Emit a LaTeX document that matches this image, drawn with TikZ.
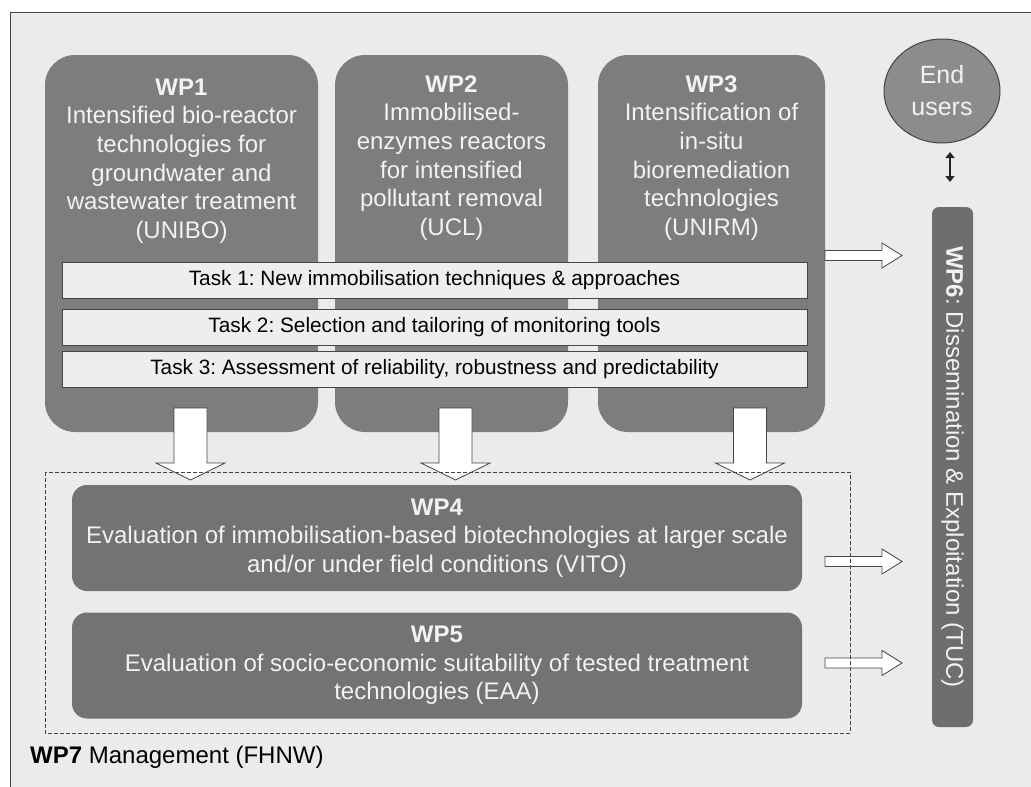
\documentclass[tikz,border=0pt]{standalone}
\usepackage{fontspec}
\setmainfont{Liberation Sans}
\frenchspacing
\usetikzlibrary{shapes.geometric,arrows.meta}
\definecolor{bgc}{HTML}{EBEBEB}
\definecolor{wpgray}{HTML}{7D7D7D}
\definecolor{wpdark}{HTML}{737373}
\definecolor{barc}{HTML}{6E6E6E}
\definecolor{ellc}{HTML}{8C8C8C}
\definecolor{taskc}{HTML}{EEEEEE}
\definecolor{linec}{HTML}{454545}
\definecolor{txtw}{HTML}{F2F2F2}
\newcommand\downblock[2]{\draw[blockarrow] (#1-16.5,#2) -- (#1+16.5,#2) -- (#1+16.5,463) -- (#1+34.5,463) -- (#1,480) -- (#1-34.5,463) -- (#1-16.5,463) -- cycle;}
\newcommand\rightblock[1]{\draw[blockarrow] (825,#1-5) -- (882,#1-5) -- (882,#1-12.5) -- (902,#1) -- (882,#1+12.5) -- (882,#1+5) -- (825,#1+5) -- cycle;}
\begin{document}
\begin{tikzpicture}[x=1pt,y=-1pt,
  wpbox/.style={fill=wpgray,draw=none,rounded corners=30pt,minimum width=273pt,minimum height=377pt,inner sep=0pt},
  wptext/.style={text=txtw,align=center,font=\fontsize{24}{28.7}\selectfont,inner sep=0pt},
  taskbox/.style={fill=taskc,draw=linec,line width=1pt,minimum width=745pt,minimum height=36pt,inner sep=0pt,font=\fontsize{20.8}{24}\selectfont},
  lowbox/.style={fill=wpdark,draw=none,rounded corners=15pt,minimum width=730pt,minimum height=106pt,inner sep=0pt,text=txtw,align=center,font=\fontsize{24}{28.7}\selectfont},
  blockarrow/.style={fill=white,draw=linec,line width=0.8pt,line join=miter}]
\path[use as bounding box] (0,0) rectangle (1031,787);
\clip (0,0) rectangle (1031,787);
\fill[white] (0,0) rectangle (1031,787);
\draw[fill=bgc,draw=linec,line width=1pt] (10,12) rectangle (1045,800);
% WP boxes
\node[wpbox] (wp1box) at (181.5,243.5) {};
\node[wpbox,minimum width=233pt] (wp2box) at (451.5,243.5) {};
\node[wpbox,minimum width=227pt] (wp3box) at (711.5,243.5) {};
\node[wptext] (wp1) at (181.5,161) {\textbf{WP1}\\Intensified bio-reactor\\technologies for\\groundwater and\\wastewater treatment\\(UNIBO)};
\node[wptext] (wp2) at (451.5,158) {\textbf{WP2}\\Immobilised-\\enzymes reactors\\for intensified\\pollutant removal\\(UCL)};
\node[wptext] (wp3) at (711.5,158) {\textbf{WP3}\\Intensification of\\in-situ\\bioremediation\\technologies\\(UNIRM)};
% tasks
\node[taskbox] (t1) at (434.5,280) {Task 1: New immobilisation techniques \& approaches};
\node[taskbox] (t2) at (434.5,327) {Task 2: Selection and tailoring of monitoring tools};
\node[taskbox] (t3) at (434.5,369.5) {Task 3: Assessment of reliability, robustness and predictability};
% end users
\node[ellipse,fill=ellc,draw=linec,line width=1pt,minimum width=116pt,minimum height=104pt,inner sep=0pt,text=txtw,align=center,font=\fontsize{25}{32}\selectfont] (eu) at (942,91) {End\\users};
% WP6
\node[fill=barc,rounded corners=7pt,minimum width=41pt,minimum height=520pt,inner sep=0pt] (wp6) at (952.5,467) {};
\node[rotate=-90,text=txtw,font=\fontsize{24}{28}\selectfont,inner sep=0pt] (wp6t) at (wp6.center) {\textbf{WP6}: Dissemination \& Exploitation (TUC)};
\coordinate (da1) at (950,152);
\coordinate (da2) at (950,182);
\draw[{Triangle[width=9pt,length=6pt]}-{Triangle[width=9pt,length=6pt]},line width=2pt,draw=black!85] (da1) -- (da2);
% lower boxes
\node[lowbox] (wp4) at (437,538) {\textbf{WP4}\\Evaluation of immobilisation-based biotechnologies at larger scale\\and/or under field conditions (VITO)};
\node[lowbox] (wp5) at (437,665.5) {\textbf{WP5}\\Evaluation of socio-economic suitability of tested treatment\\technologies (EAA)};
% block arrows
\downblock{190.5}{408}
\downblock{455.5}{408}
\downblock{750}{408}
\rightblock{255.5}
\rightblock{561.5}
\rightblock{663}
% dashed WP7 frame
\draw[dashed,draw=linec,line width=0.8pt,dash pattern=on 4pt off 2pt] (45,472) rectangle (850,733);
\node[anchor=west,inner sep=0pt,font=\fontsize{24}{28}\selectfont,text=black] (wp7) at (30,757) {\textbf{WP7} Management (FHNW)};
\end{tikzpicture}
\end{document}
